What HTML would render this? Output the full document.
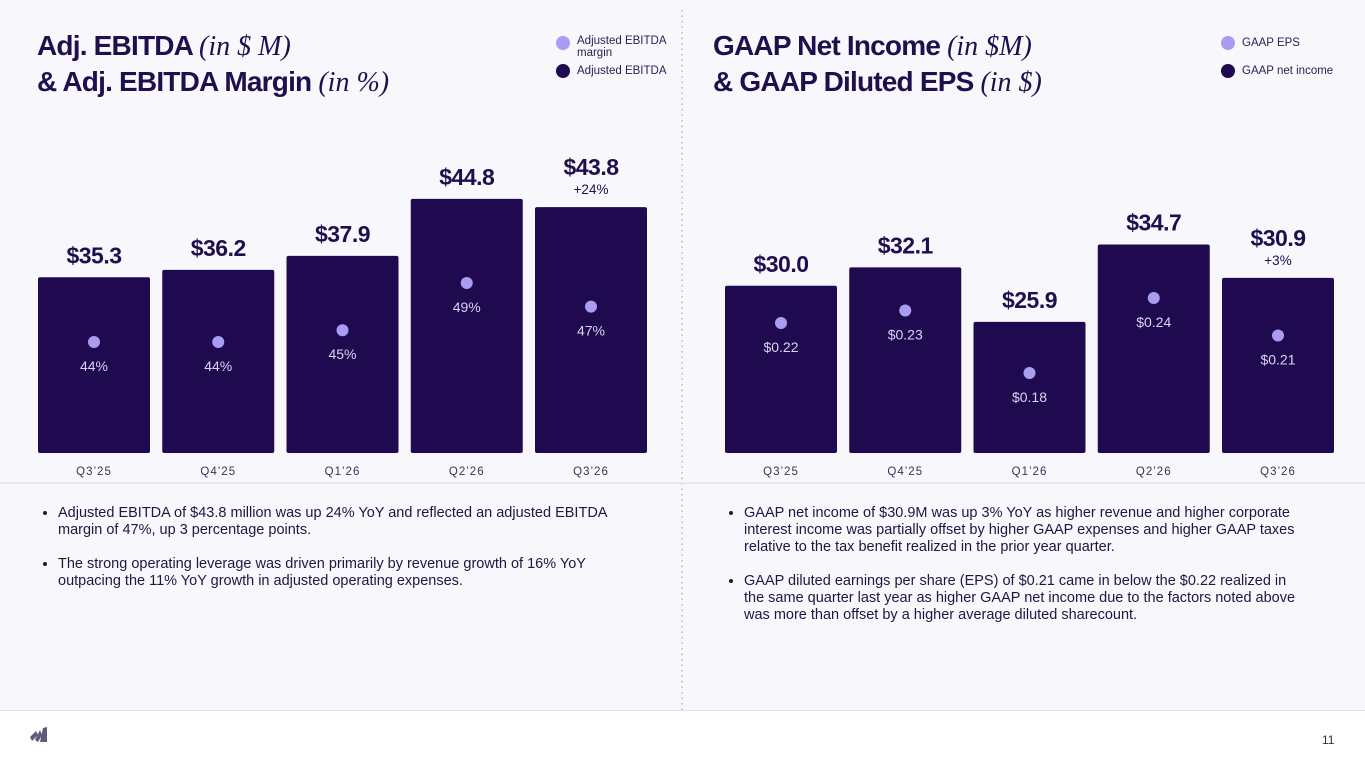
<!DOCTYPE html>
<html><head><meta charset="utf-8">
<style>
html,body{margin:0;padding:0}
body{width:1365px;height:768px;position:relative;background:#fff;font-family:"Liberation Sans",sans-serif;color:#1f0f4d;overflow:hidden}
#top{position:absolute;left:0;top:0;width:1365px;height:710px;background:#f7f7fc;border-bottom:1px solid #e2e2ee}
.title{position:absolute;font-weight:bold;font-size:28px;line-height:35px;letter-spacing:-0.8px;color:#1f0f4d}
.title i{font-family:"Liberation Serif",serif;font-weight:normal;letter-spacing:0}
.leg{position:absolute;font-size:11.5px;line-height:12px;color:#2a2350}
.leg span.d{position:absolute;left:-21px;width:14px;height:14px;border-radius:50%}
ul{position:absolute;margin:0;padding-left:20px;font-size:14.5px;line-height:17px;color:#1f1740}
li{margin-bottom:17px}
svg{position:absolute;left:0;top:0}
</style></head><body>
<div id="top"></div>
<div class="title" style="left:37px;top:28px">Adj. EBITDA <i>(in $ M)</i><br>&amp; Adj. EBITDA Margin <i>(in %)</i></div>
<div class="title" style="left:713px;top:28px">GAAP Net Income <i>(in $M)</i><br>&amp; GAAP Diluted EPS <i>(in $)</i></div>
<div class="leg" style="left:577px;top:35px"><span class="d" style="background:#a99df2;top:1px"></span>Adjusted EBITDA<br>margin</div>
<div class="leg" style="left:577px;top:65px"><span class="d" style="background:#1f0a4f;top:-1px"></span>Adjusted EBITDA</div>
<div class="leg" style="left:1242px;top:37px"><span class="d" style="background:#a99df2;top:-1px"></span>GAAP EPS</div>
<div class="leg" style="left:1242px;top:65px"><span class="d" style="background:#1f0a4f;top:-1px"></span>GAAP net income</div>
<ul style="left:38px;top:505px;width:585px">
<li>Adjusted EBITDA of $43.8 million was up 24% YoY and reflected an adjusted EBITDA margin of 47%, up 3 percentage points.</li>
<li>The strong operating leverage was driven primarily by revenue growth of 16% YoY outpacing the 11% YoY growth in adjusted operating expenses.</li></ul>
<ul style="left:724px;top:505px;width:565px">
<li>GAAP net income of $30.9M was up 3% YoY as higher revenue and higher corporate interest income was partially offset by higher GAAP expenses and higher GAAP taxes relative to the tax benefit realized in the prior year quarter.</li>
<li>GAAP diluted earnings per share (EPS) of $0.21 came in below the $0.22 realized in the same quarter last year as higher GAAP net income due to the factors noted above was more than offset by a higher average diluted sharecount.</li></ul>
<div style="position:absolute;left:1322px;top:733px;font-size:12px;color:#333">11</div>
<svg width="1365" height="768" id="chart">
<line x1="682" y1="10" x2="682" y2="710" stroke="#9a98b0" stroke-width="1" stroke-dasharray="1.5,4"/>
<line x1="0" y1="483" x2="1365" y2="483" stroke="#e2e2ee" stroke-width="1.5"/>
<g transform="translate(28,727)"><path d="M2,10 L8,4 L10,8 L4,14Z M7,13 L12,3 L14,8 L10,15Z M12,15 L15,1 L19,0 L19,15Z" fill="#5e5c78"/></g>
</svg>
<script>
const quarters=["Q3’25","Q4’25","Q1’26","Q2’26","Q3’26"];
const ebitda=[35.3,36.2,37.9,44.8,43.8];
const margin=[44,44,45,49,47];
const netIncome=[30.0,32.1,25.9,34.7,30.9];
const eps=[0.22,0.23,0.18,0.24,0.21];
const ebitdaGrowth="+24%";
const niGrowth="+3%";
const NS="http://www.w3.org/2000/svg";
const svg=document.getElementById('chart');
function mk(t,a,txt){const e=document.createElementNS(NS,t);for(const k in a)e.setAttribute(k,a[k]);if(txt!==undefined)e.textContent=txt;svg.appendChild(e);return e;}
function draw(cfg){
  const base=453,bw=112,step=124.25;
  cfg.vals.forEach((v,i)=>{
    const x=cfg.x0+i*step, h=cfg.yb(v), top=base-h;
    const b=mk('rect',{x:x,y:top,width:bw,height:h,rx:2,fill:'#1f0a4f'});
    
    
    const t=mk('text',{x:x+bw/2,y:top-(i==4?32:14),'text-anchor':'middle','font-size':23,'font-weight':'bold',fill:'#1f0f4d','letter-spacing':'-0.5'},cfg.fmt(v));
    
    
    if(i==4){const g=mk('text',{x:x+bw/2,y:top-13,'text-anchor':'middle','font-size':13.5,fill:'#1f0f4d'},cfg.growth);
      
      }
    const dy=cfg.yd(cfg.dots[i]);
    const c=mk('circle',{cx:x+bw/2,cy:dy,r:6,fill:'#a99df2'});
    
    
    const dl=mk('text',{x:x+bw/2,y:dy+29,'text-anchor':'middle','font-size':14,fill:'#d8d4f5'},cfg.dfmt(cfg.dots[i]));
    
    
    const q=mk('text',{x:x+bw/2,y:475,'text-anchor':'middle','font-size':11.5,fill:'#3a3358','letter-spacing':'1'},quarters[i]);
    
    
  });
}
draw({id:'ebitda',x0:38,vals:ebitda,dots:margin,growth:ebitdaGrowth,
  yb:v=>(v-14)*8.25,yd:m=>342-(m-44)*11.8,
  fmt:v=>'$'+v.toFixed(1),dfmt:m=>m+'%'});
draw({id:'gaap',x0:725,vals:netIncome,dots:eps,growth:niGrowth,
  yb:v=>(v-11)*8.8,yd:e=>373-(e-0.18)*1250,
  fmt:v=>'$'+v.toFixed(1),dfmt:e=>'$'+e.toFixed(2)});
</script>
</body></html>
